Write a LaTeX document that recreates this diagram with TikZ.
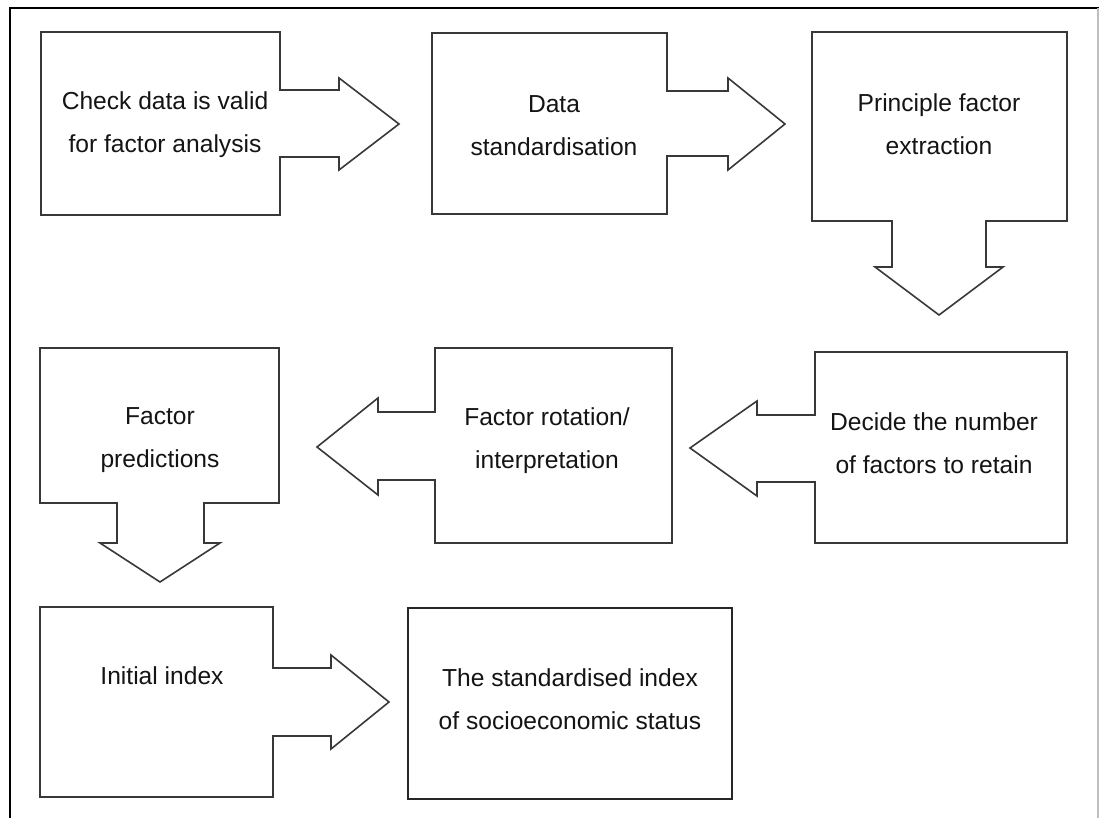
\documentclass[tikz,border=0pt]{standalone}
\usepackage{fontspec}
\setmainfont{Liberation Sans}
\begin{document}
\begin{tikzpicture}[x=1pt,y=-1pt,
  shapeline/.style={draw=black!78, line width=1.6pt, line join=miter, fill=white},
  label/.style={align=center, inner sep=0pt, text=black!92, font=\fontsize{24.6}{43}\selectfont},
  frame/.style={line width=2.6pt, draw=black}]
\useasboundingbox (0,0) rectangle (1099,818);
% outer frame
\draw[frame] (10,818) -- (10,8) -- (1099,8);
\draw[draw=black!25, line width=1.2pt] (1098,8) -- (1098,818);

% 1: check data
\draw[shapeline] (41,32) -- (280,32) -- (280,90) -- (339,90) -- (339,78) -- (399,124)
  -- (339,170) -- (339,157) -- (280,157) -- (280,215) -- (41,215) -- cycle;
\node[label] (check) at (165,125) {Check data is valid\\for factor analysis};

% 2: data standardisation
\draw[shapeline] (432,33) -- (667,33) -- (667,91) -- (728,91) -- (728,78) -- (785,124)
  -- (728,170) -- (728,156) -- (667,156) -- (667,214) -- (432,214) -- cycle;
\node[label] (std) at (554,126) {Data\\standardisation};

% 3: principle factor extraction
\draw[shapeline] (812,32) -- (1067,32) -- (1067,221) -- (986,221) -- (986,267) -- (1003,267)
  -- (939,315) -- (875,267) -- (892,267) -- (892,221) -- (812,221) -- cycle;
\node[label] (extract) at (939,124) {Principle factor\\extraction};

% 4: decide number of factors
\draw[shapeline] (815,352) -- (1067,352) -- (1067,543) -- (815,543) -- (815,482) -- (757,482)
  -- (757,496) -- (690,448) -- (757,401) -- (757,415) -- (815,415) -- cycle;
\node[label] (decide) at (934,443) {Decide the number\\of factors to retain};

% 5: factor rotation
\draw[shapeline] (435,348) -- (672,348) -- (672,543) -- (435,543) -- (435,480) -- (378,480)
  -- (378,495) -- (317,447) -- (378,398) -- (378,412) -- (435,412) -- cycle;
\node[label] (rotate) at (547,441) {Factor rotation/\\interpretation};

% 6: factor predictions
\draw[shapeline] (40,348) -- (279,348) -- (279,503) -- (204,503) -- (204,543) -- (220,543)
  -- (160,582) -- (100,543) -- (117,543) -- (117,503) -- (40,503) -- cycle;
\node[label] (predict) at (160,440) {Factor\\predictions};

% 7: initial index
\draw[shapeline] (40,607) -- (273,607) -- (273,668) -- (331,668) -- (331,655) -- (389,702)
  -- (331,749) -- (331,736) -- (273,736) -- (273,797) -- (40,797) -- cycle;
\node[label] (initial) at (162,676) {Initial index};

% 8: standardised index
\draw[shapeline, draw=black!85] (408,608) rectangle (732,799);
\node[label] (final) at (570,699) {The standardised index\\of socioeconomic status};
\end{tikzpicture}
\end{document}
